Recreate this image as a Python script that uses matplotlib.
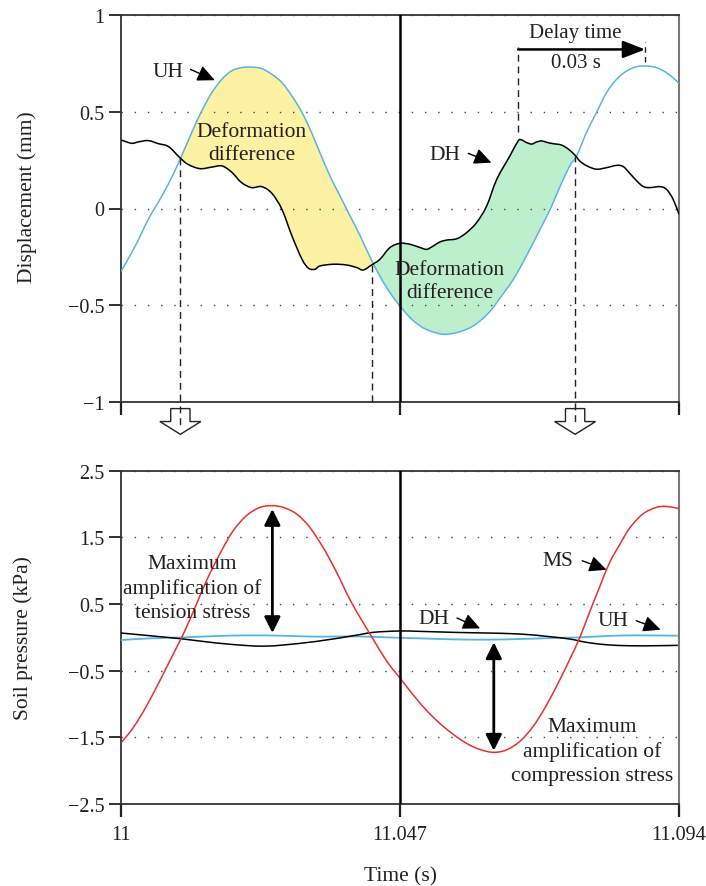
import numpy as np
import matplotlib.pyplot as plt
from matplotlib.patches import FancyArrow, PathPatch
from matplotlib.path import Path

plt.rcParams['font.family'] = ['Liberation Serif', 'DejaVu Serif']
plt.rcParams['text.color'] = '#231f20'

# upper panel: displacement (mm)
uh_t = [11.0000, 11.0024, 11.0046, 11.0069, 11.0088, 11.0102, 11.0119, 11.0136, 11.0153, 11.0170,
        11.0186, 11.0203, 11.0220, 11.0237, 11.0254, 11.0271, 11.0288, 11.0305, 11.0321, 11.0335,
        11.0352, 11.0369, 11.0386, 11.0403, 11.0420, 11.0436, 11.0453, 11.0470, 11.0487, 11.0504,
        11.0521, 11.0543, 11.0566, 11.0588, 11.0605, 11.0622, 11.0638, 11.0661, 11.0683, 11.0706,
        11.0723, 11.0740, 11.0756, 11.0768, 11.0784, 11.0801, 11.0818, 11.0835, 11.0852, 11.0869,
        11.0886, 11.0902, 11.0919, 11.0936, 11.0940]
uh_disp = [-0.325, -0.194, -0.056, 0.065, 0.177, 0.271, 0.392, 0.504, 0.599, 0.668,
           0.711, 0.728, 0.731, 0.723, 0.694, 0.651, 0.581, 0.496, 0.392, 0.289,
           0.168, 0.065, -0.039, -0.142, -0.254, -0.349, -0.435, -0.504, -0.564, -0.607,
           -0.633, -0.650, -0.641, -0.616, -0.581, -0.530, -0.465, -0.366, -0.245, -0.107,
           -0.004, 0.116, 0.220, 0.275, 0.392, 0.496, 0.599, 0.668, 0.711, 0.733,
           0.736, 0.728, 0.702, 0.659, 0.642]

dh_t = [11.0000, 11.0018, 11.0029, 11.0046, 11.0063, 11.0080, 11.0099, 11.0113, 11.0133, 11.0153,
        11.0170, 11.0186, 11.0203, 11.0220, 11.0237, 11.0254, 11.0271, 11.0288, 11.0305, 11.0316,
        11.0327, 11.0335, 11.0358, 11.0380, 11.0397, 11.0408, 11.0422, 11.0436, 11.0453, 11.0470,
        11.0487, 11.0504, 11.0515, 11.0526, 11.0537, 11.0549, 11.0566, 11.0582, 11.0599, 11.0616,
        11.0633, 11.0655, 11.0669, 11.0675, 11.0683, 11.0692, 11.0700, 11.0709, 11.0717, 11.0728,
        11.0742, 11.0754, 11.0765, 11.0773, 11.0785, 11.0801, 11.0818, 11.0835, 11.0846, 11.0857,
        11.0869, 11.0880, 11.0891, 11.0908, 11.0919, 11.0930, 11.0940]
dh_disp = [0.354, 0.337, 0.344, 0.351, 0.335, 0.320, 0.263, 0.228, 0.206, 0.214,
           0.220, 0.189, 0.134, 0.108, 0.113, 0.079, -0.004, -0.142, -0.263, -0.309,
           -0.314, -0.297, -0.288, -0.292, -0.305, -0.318, -0.292, -0.263, -0.202, -0.180,
           -0.185, -0.202, -0.211, -0.194, -0.173, -0.163, -0.156, -0.125, -0.073, 0.013,
           0.151, 0.271, 0.349, 0.354, 0.341, 0.333, 0.344, 0.349, 0.342, 0.335,
           0.328, 0.306, 0.275, 0.245, 0.220, 0.203, 0.211, 0.223, 0.217, 0.182,
           0.142, 0.113, 0.108, 0.113, 0.099, 0.048, -0.030]

# times where UH and DH cross, and the displacement there
cross_t = [11.0100, 11.0423, 11.0765]
cross_d = [0.263, -0.290, 0.275]
dh_peak_t = 11.0669
uh_peak_t = 11.0883

# lower panel: soil pressure (kPa)
ms_t = [11.0000, 11.0021, 11.0043, 11.0066, 11.0088, 11.0105, 11.0122, 11.0144, 11.0167, 11.0189,
        11.0212, 11.0234, 11.0254, 11.0273, 11.0296, 11.0318, 11.0341, 11.0363, 11.0386, 11.0408,
        11.0425, 11.0447, 11.0469, 11.0492, 11.0514, 11.0537, 11.0559, 11.0582, 11.0604, 11.0627,
        11.0649, 11.0672, 11.0694, 11.0716, 11.0739, 11.0756, 11.0773, 11.0789, 11.0806, 11.0823,
        11.0840, 11.0857, 11.0879, 11.0902, 11.0919, 11.0940]
ms_p = [-1.585, -1.35, -1.03, -0.64, -0.25, 0.05, 0.39, 0.85, 1.26, 1.60,
        1.83, 1.95, 1.975, 1.950, 1.850, 1.650, 1.34, 0.98, 0.56, 0.22,
        -0.03, -0.35, -0.60, -0.86, -1.09, -1.29, -1.45, -1.59, -1.68, -1.725,
        -1.69, -1.56, -1.34, -1.03, -0.64, -0.33, 0.00, 0.37, 0.75, 1.12,
        1.39, 1.64, 1.85, 1.95, 1.965, 1.93]

dhp_t = [11.0000, 11.0049, 11.0105, 11.0161, 11.0217, 11.0245, 11.0273, 11.0330, 11.0391, 11.0425,
         11.0468, 11.0503, 11.0559, 11.0615, 11.0672, 11.0717, 11.0756, 11.0784, 11.0818, 11.0857,
         11.0896, 11.0938]
dhp_p = [0.065, 0.024, -0.025, -0.085, -0.126, -0.131, -0.115, -0.060, 0.024, 0.075,
         0.095, 0.090, 0.075, 0.065, 0.050, 0.015, -0.025, -0.075, -0.111, -0.126,
         -0.126, -0.120]

uhp_t = [11.0000, 11.0049, 11.0105, 11.0161, 11.0217, 11.0273, 11.0330, 11.0391, 11.0447, 11.0503,
         11.0559, 11.0615, 11.0672, 11.0728, 11.0773, 11.0818, 11.0868, 11.0938]
uhp_p = [-0.040, -0.015, 0.000, 0.020, 0.030, 0.024, 0.010, 0.015, 0.000, -0.015,
         -0.030, -0.035, -0.025, -0.010, 0.000, 0.020, 0.030, 0.024]

x_ticks = [11, 11.047, 11.094]
x_ticklabels = ['11', '11.047', '11.094']
disp_ticks = [-1, -0.5, 0, 0.5, 1]
disp_ticklabels = ['\u22121', '\u22120.5', '0', '0.5', '1']
pres_ticks = [-2.5, -1.5, -0.5, 0.5, 1.5, 2.5]
pres_ticklabels = ['\u22122.5', '\u22121.5', '\u22120.5', '0.5', '1.5', '2.5']

BLUE = '#5ab3e0'
RED = '#e5322a'
INK = '#231f20'
FS = 15.5


def smooth_line(ax, xs, ys, **kw):
    """Draw a Catmull-Rom style Bezier path through the given points."""
    p = np.column_stack([xs, ys]).astype(float)
    ext = np.vstack([p[0], p, p[-1]])
    verts = [p[0]]
    codes = [Path.MOVETO]
    for i in range(len(p) - 1):
        p0, p1, p2, p3 = ext[i], ext[i + 1], ext[i + 2], ext[i + 3]
        verts += [p1 + (p2 - p0) / 6, p2 - (p3 - p1) / 6, p2]
        codes += [Path.CURVE4] * 3
    ax.add_patch(PathPatch(Path(verts, codes), fill=False, **kw))


fig = plt.figure(figsize=(7.06, 8.87), dpi=100)
ax1 = fig.add_axes([121 / 706, 1 - 403 / 887, 558 / 706, 387 / 887])
ax2 = fig.add_axes([121 / 706, 1 - 805 / 887, 558 / 706, 333.3 / 887])

for ax in (ax1, ax2):
    ax.set_xlim(11, 11.094)
    ax.set_xticks(x_ticks)
    ax.tick_params(direction='out', length=9, width=1.6, color=INK, labelsize=14.5, labelcolor=INK)
    ax.tick_params(axis='y', width=1.3, pad=3)
    ax.tick_params(axis='x', pad=6)
    ax.grid(axis='y', ls=(0, (1, 8.5)), color='#444444', lw=1)
    ax.axvline(11.047, color='k', lw=1.8, zorder=5)
    for side in ['left', 'bottom', 'top']:
        ax.spines[side].set_color('#333333')
        ax.spines[side].set_linewidth(1.3)
    ax.spines['right'].set_color('#777777')
    ax.spines['right'].set_linewidth(1.5)

# ---- displacement panel ----
ax1.set_ylim(-1, 1)
ax1.set_yticks(disp_ticks, disp_ticklabels)
ax1.set_xticklabels([])

uh_t_a, uh_d_a = np.array(uh_t), np.array(uh_disp)
dh_t_a, dh_d_a = np.array(dh_t), np.array(dh_disp)

for (t0, t1), d0, d1, col in [((cross_t[0], cross_t[1]), cross_d[0], cross_d[1], '#fdf1a3'),
                              ((cross_t[1], cross_t[2]), cross_d[1], cross_d[2], '#bdefcc')]:
    m1 = (uh_t_a > t0) & (uh_t_a < t1)
    m2 = (dh_t_a > t0) & (dh_t_a < t1)
    xs = np.r_[t0, uh_t_a[m1], t1, dh_t_a[m2][::-1]]
    ys = np.r_[d0, uh_d_a[m1], d1, dh_d_a[m2][::-1]]
    ax1.fill(xs, ys, color=col, lw=0, zorder=1)

smooth_line(ax1, uh_t, uh_disp, ec=BLUE, lw=1.1, zorder=3)
smooth_line(ax1, dh_t, dh_disp, ec='k', lw=1.1, zorder=3)

# dashed drop lines at the crossings, with open block arrows below
dash = (0, (5, 3.5))
for i, (tc, dc) in enumerate(zip(cross_t, cross_d)):
    bottom = -1.0 if i == 1 else -1.126
    ax1.plot([tc, tc], [dc, bottom], color='#222222', lw=1, ls=dash, clip_on=False, zorder=6)
    if i != 1:
        ax1.add_patch(FancyArrow(tc, -1.034, 0, -0.133, width=0.00325, head_width=0.0069,
                                 head_length=0.066, length_includes_head=True, fc='white',
                                 ec='#222222', lw=1, clip_on=False, zorder=5))

# delay time marker
ax1.plot([dh_peak_t, dh_peak_t], [0.393, 0.837], color='#222222', lw=1, ls=dash, zorder=6)
ax1.plot([uh_peak_t, uh_peak_t], [0.755, 0.859], color='#222222', lw=1, ls=(0, (4, 3)), zorder=6)
ax1.annotate('', xy=(uh_peak_t, 0.822), xytext=(dh_peak_t, 0.822),
             arrowprops=dict(arrowstyle='-|>,head_length=0.9,head_width=0.35', lw=1.8,
                             color='k', shrinkA=0, shrinkB=0, mutation_scale=15))
ax1.text(11.0765, 0.911, 'Delay time', fontsize=15, ha='center', va='center')
ax1.text(11.0767, 0.756, '0.03 s', fontsize=15, ha='center', va='center')

pointer = dict(arrowstyle='-|>,head_length=0.75,head_width=0.35', lw=1, color='k',
               shrinkA=0, shrinkB=0, mutation_scale=14)
ax1.text(11.0079, 0.709, 'UH', fontsize=FS, ha='center', va='center')
ax1.annotate('', xy=(11.0158, 0.663), xytext=(11.0117, 0.719), arrowprops=pointer)
ax1.text(11.0545, 0.280, 'DH', fontsize=FS, ha='center', va='center')
ax1.annotate('', xy=(11.0624, 0.237), xytext=(11.0585, 0.285), arrowprops=pointer)
ax1.text(11.0220, 0.337, 'Deformation\ndifference', fontsize=FS, ha='center', va='center',
         linespacing=1.3, zorder=7)
ax1.text(11.0554, -0.376, 'Deformation\ndifference', fontsize=FS, ha='center', va='center',
         linespacing=1.3, zorder=7)

ax1.set_ylabel('Displacement (mm)', fontsize=15.5, color=INK)
ax1.yaxis.set_label_coords(-0.1505, 0.532)

# ---- soil pressure panel ----
ax2.set_ylim(-2.5, 2.5)
ax2.set_yticks(pres_ticks, pres_ticklabels)
ax2.set_xticklabels(x_ticklabels)

smooth_line(ax2, uhp_t, uhp_p, ec=BLUE, lw=1.3, zorder=3)
smooth_line(ax2, dhp_t, dhp_p, ec='k', lw=1.1, zorder=3)
smooth_line(ax2, ms_t, ms_p, ec=RED, lw=1.1, zorder=4)

double = dict(arrowstyle='<|-|>,head_length=0.8,head_width=0.4', lw=2, color='k',
              shrinkA=0, shrinkB=0, mutation_scale=12)
ax2.annotate('', xy=(11.0255, 1.925), xytext=(11.0255, 0.065), arrowprops=double)
ax2.annotate('', xy=(11.0628, -1.700), xytext=(11.0628, -0.075), arrowprops=double)

ax2.text(11.0120, 0.738, 'Maximum\namplification of\ntension stress', fontsize=FS,
         ha='center', va='center', linespacing=1.35, zorder=7)
ax2.text(11.0794, -1.706, 'Maximum\namplification of\ncompression stress', fontsize=FS,
         ha='center', va='center', linespacing=1.35, zorder=7)

ax2.text(11.0736, 1.149, 'MS', fontsize=FS, ha='center', va='center')
ax2.annotate('', xy=(11.0818, 1.014), xytext=(11.0777, 1.149), arrowprops=pointer)
ax2.text(11.0527, 0.285, 'DH', fontsize=FS, ha='center', va='center')
ax2.annotate('', xy=(11.0605, 0.134), xytext=(11.0566, 0.290), arrowprops=pointer)
ax2.text(11.0829, 0.249, 'UH', fontsize=FS, ha='center', va='center')
ax2.annotate('', xy=(11.0909, 0.114), xytext=(11.0868, 0.249), arrowprops=pointer)

ax2.set_ylabel('Soil pressure (kPa)', fontsize=15.5, color=INK)
ax2.yaxis.set_label_coords(-0.158, 0.5)
ax2.set_xlabel('Time (s)', fontsize=15.5, color=INK)
ax2.xaxis.set_label_coords(0.5, -0.188)

fig.savefig('out.png', dpi=100)
